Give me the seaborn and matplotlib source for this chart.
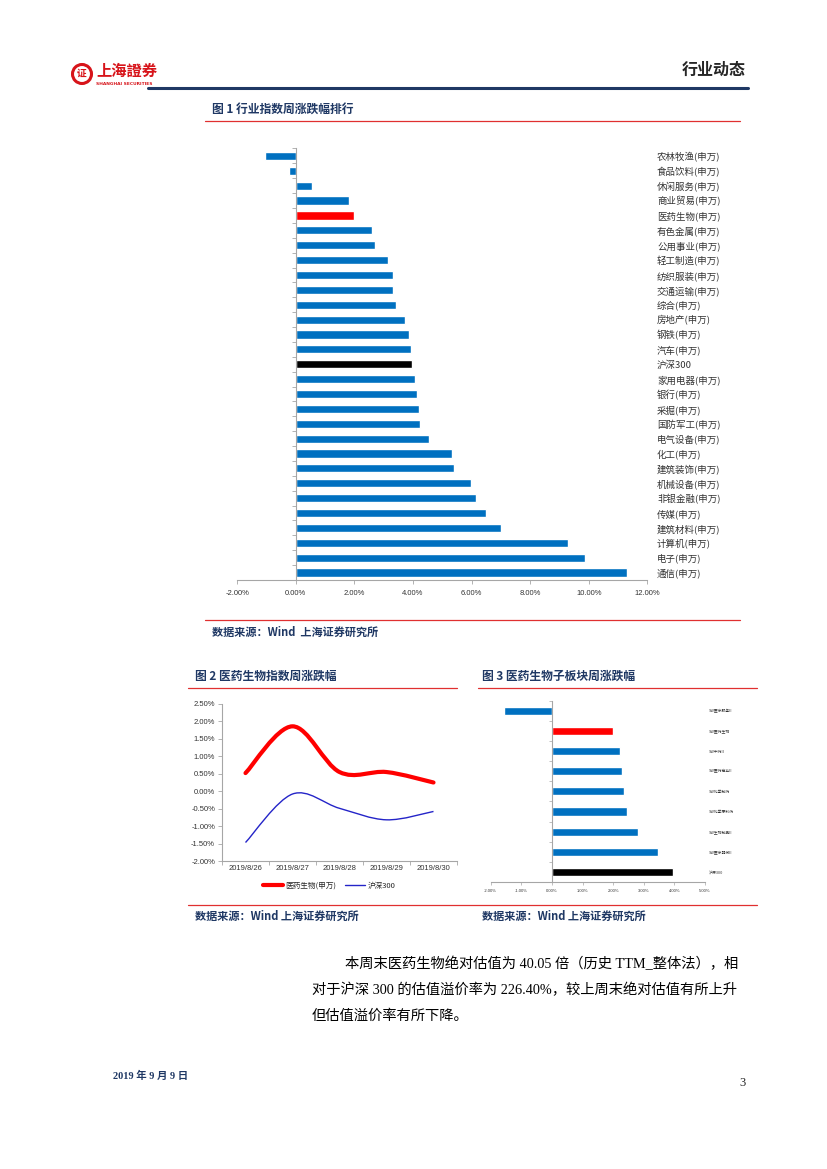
import numpy as np
import pandas as pd
import matplotlib
matplotlib.use("Agg")
import matplotlib.pyplot as plt
import seaborn as sns
from matplotlib.lines import Line2D
from matplotlib.path import Path
from matplotlib.patches import PathPatch, Ellipse
from matplotlib.ticker import FuncFormatter, FixedLocator

# ---- data ----
industries = ["农林牧渔(申万)", "食品饮料(申万)", "休闲服务(申万)", "商业贸易(申万)", "医药生物(申万)",
              "有色金属(申万)", "公用事业(申万)", "轻工制造(申万)", "纺织服装(申万)", "交通运输(申万)",
              "综合(申万)", "房地产(申万)", "钢铁(申万)", "汽车(申万)", "沪深300",
              "家用电器(申万)", "银行(申万)", "采掘(申万)", "国防军工(申万)", "电气设备(申万)",
              "化工(申万)", "建筑装饰(申万)", "机械设备(申万)", "非银金融(申万)", "传媒(申万)",
              "建筑材料(申万)", "计算机(申万)", "电子(申万)", "通信(申万)"]
industry_chg = [-1.05, -0.24, 0.55, 1.81, 1.99,
                2.60, 2.70, 3.15, 3.33, 3.33,
                3.42, 3.71, 3.85, 3.92, 3.95,
                4.08, 4.13, 4.20, 4.24, 4.56,
                5.34, 5.40, 5.97, 6.15, 6.50,
                7.00, 9.30, 9.86, 11.30]

dates = ["2019/8/26", "2019/8/27", "2019/8/28", "2019/8/29", "2019/8/30"]
pharma_chg = [0.52, 1.86, 0.55, 0.55, 0.25]
hs300_chg = [-1.47, -0.08, -0.49, -0.82, -0.58]

sub_sectors = ["SW医疗服务II", "SW医药生物", "SW中药II", "SW医药商业II", "SW化学制药",
               "SW化学原料药", "SW生物制品II", "SW医疗器械II", "沪深300"]
sub_chg = [-1.55, 1.99, 2.21, 2.29, 2.34, 2.46, 2.81, 3.46, 3.94]

# ---- helpers ----
W, H = 827, 1169
NAVY = "#1F3864"
BLUE = "#0070C0"
RED = "#FF0000"
AXC = "#A6A6A6"


def fx(x):
    return x / W


def fy(y):
    return 1 - y / H


def box(l, t, r, b):
    return [fx(l), fy(b), (r - l) / W, (b - t) / H]


def bar_color(name):
    if name == "沪深300":
        return "black"
    if name in ("医药生物(申万)", "SW医药生物"):
        return RED
    return BLUE


def pct(v, pos):
    return f"{v:.2f}%"


def smooth_path(xs, ys):
    # Excel-style smoothed line: bezier through the points
    pts = np.column_stack([xs, ys]).astype(float)
    verts = [pts[0]]
    codes = [Path.MOVETO]
    n = len(pts)
    for i in range(n - 1):
        p0 = pts[i - 1] if i > 0 else pts[i]
        p1, p2 = pts[i], pts[i + 1]
        p3 = pts[i + 2] if i + 2 < n else pts[i + 1]
        verts += [p1 + (p2 - p0) / 6, p2 - (p3 - p1) / 6, p2]
        codes += [Path.CURVE4] * 3
    return Path(verts, codes)


def hline(y, x0, x1, color, lw):
    fig.add_artist(Line2D([fx(x0), fx(x1)], [fy(y), fy(y)], color=color, lw=lw,
                          transform=fig.transFigure))


sns.set_theme(style="white")
plt.rcParams['font.family'] = ['Noto Sans CJK SC', 'DejaVu Sans']
plt.rcParams['axes.unicode_minus'] = False

fig = plt.figure(figsize=(8.27, 11.69), dpi=100)

# ---- page header ----
fig.add_artist(Ellipse((fx(82), fy(74)), 19 / W, 19 / H, transform=fig.transFigure,
                       facecolor="white", edgecolor="#D7141A", lw=2.2))
fig.text(fx(82), fy(74), "证", color="#D7141A", fontsize=7, fontweight="bold", ha="center", va="center")
fig.text(fx(96), fy(71), "上海證券", color="#D7141A", fontsize=11, fontweight="bold", va="center")
fig.text(fx(96), fy(84), "SHANGHAI SECURITIES", color="#D7141A", fontsize=3.2,
         fontweight="bold", va="center", family="DejaVu Sans")
fig.text(fx(746), fy(70), "行业动态", color="#262626", fontsize=11.5, fontweight="bold", ha="right", va="center")
hline(88, 148, 748, NAVY, 2.2)

# ---- figure 1 ----
fig.text(fx(212), fy(109), "图 1 行业指数周涨跌幅排行", color=NAVY, fontsize=8.5, fontweight="bold", va="center")
hline(121, 205, 740, "#E03030", 0.9)

ax1 = fig.add_axes(box(237.3, 148.5, 647.3, 580))
df1 = pd.DataFrame({"行业": industries, "涨跌幅": industry_chg})
sns.barplot(data=df1, x="涨跌幅", y="行业", hue="行业",
            palette={n: bar_color(n) for n in industries},
            width=0.55, saturation=1, legend=False, ax=ax1)
ax1.set_xlim(-2, 12)
ax1.set_xticks(np.arange(-2, 13, 2))
ax1.xaxis.set_major_formatter(FuncFormatter(pct))
ax1.set_xlabel("")
ax1.set_ylabel("")
ax1.spines['left'].set_position(('data', 0))
ax1.spines[['top', 'right']].set_visible(False)
for s in ['left', 'bottom']:
    ax1.spines[s].set_color(AXC)
    ax1.spines[s].set_linewidth(0.8)
ax1.yaxis.set_minor_locator(FixedLocator(np.arange(-0.5, len(industries), 1)))
ax1.tick_params(axis='y', which='major', left=False, right=False, labelleft=False,
                labelright=True, length=0, pad=7, labelsize=6.8, labelcolor="#333333")
ax1.tick_params(axis='y', which='minor', left=True, length=3, width=0.6, color=AXC)
ax1.tick_params(axis='x', bottom=True, length=3, width=0.6, color=AXC,
                labelsize=5.5, pad=4, labelcolor="#333333")
for t in ax1.get_xticklabels():
    t.set_family("Liberation Sans")

hline(620, 205, 740, "#E03030", 0.9)
fig.text(fx(212), fy(632), "数据来源：Wind  上海证券研究所", color=NAVY, fontsize=8,
         fontweight="bold", style="italic", va="center")

# ---- figure 2 ----
fig.text(fx(195), fy(676), "图 2 医药生物指数周涨跌幅", color=NAVY, fontsize=8.5, fontweight="bold", va="center")
hline(688, 188, 457, "#E03030", 0.9)

ax2 = fig.add_axes(box(222, 704, 457, 861))
xs = np.arange(len(dates))
ax2.add_patch(PathPatch(smooth_path(xs, pharma_chg), fill=False, edgecolor=RED, lw=3.0, capstyle="round"))
ax2.add_patch(PathPatch(smooth_path(xs, hs300_chg), fill=False, edgecolor="#2424C8", lw=1.0))
ax2.set_xlim(-0.5, len(dates) - 0.5)
ax2.set_ylim(-2.0, 2.5)
ax2.set_yticks(np.arange(-2.0, 2.51, 0.5))
ax2.yaxis.set_major_formatter(FuncFormatter(pct))
ax2.set_xticks(xs)
ax2.set_xticklabels(dates)
ax2.xaxis.set_minor_locator(FixedLocator(np.arange(-0.5, len(dates), 1)))
ax2.spines[['top', 'right']].set_visible(False)
for s in ['left', 'bottom']:
    ax2.spines[s].set_color(AXC)
    ax2.spines[s].set_linewidth(0.8)
ax2.tick_params(axis='x', which='major', bottom=False, length=0, labelsize=5.5, pad=3,
                labelcolor="#333333")
ax2.tick_params(axis='x', which='minor', bottom=True, length=3, width=0.6, color=AXC)
ax2.tick_params(axis='y', left=True, length=3, width=0.6, color=AXC, labelsize=5.5, pad=2, labelcolor="#333333")
for t in ax2.get_xticklabels() + ax2.get_yticklabels():
    t.set_family("Liberation Sans")
handles = [Line2D([], [], color=RED, lw=3.0), Line2D([], [], color="#2424C8", lw=1.0)]
ax2.legend(handles, ["医药生物(申万)", "沪深300"], loc="center", ncol=2, frameon=False,
           bbox_to_anchor=(fx(329), fy(886)), bbox_transform=fig.transFigure,
           fontsize=5.5, handlelength=2.6, handletextpad=0.3, columnspacing=1.2)

# ---- figure 3 ----
fig.text(fx(482), fy(676), "图 3 医药生物子板块周涨跌幅", color=NAVY, fontsize=8.5, fontweight="bold", va="center")
hline(688, 478, 757, "#E03030", 0.9)

ax3 = fig.add_axes(box(490.7, 700.7, 705, 882))
df3 = pd.DataFrame({"板块": sub_sectors, "涨跌幅": sub_chg})
sns.barplot(data=df3, x="涨跌幅", y="板块", hue="板块",
            palette={n: bar_color(n) for n in sub_sectors},
            width=0.4, saturation=1, legend=False, ax=ax3)
ax3.set_xlim(-2, 5)
ax3.set_xticks(np.arange(-2, 6, 1))
ax3.xaxis.set_major_formatter(FuncFormatter(pct))
ax3.set_xlabel("")
ax3.set_ylabel("")
ax3.spines['left'].set_position(('data', 0))
ax3.spines[['top', 'right']].set_visible(False)
for s in ['left', 'bottom']:
    ax3.spines[s].set_color(AXC)
    ax3.spines[s].set_linewidth(0.8)
ax3.yaxis.set_minor_locator(FixedLocator(np.arange(-0.5, len(sub_sectors), 1)))
ax3.tick_params(axis='y', which='major', left=False, right=False, labelleft=False,
                labelright=True, length=0, pad=3, labelsize=2.8, labelcolor="#333333")
ax3.tick_params(axis='y', which='minor', left=True, length=2, width=0.5, color=AXC)
ax3.tick_params(axis='x', bottom=True, length=2, width=0.5, color=AXC,
                labelsize=3, pad=3, labelcolor="#333333")
for t in ax3.get_xticklabels():
    t.set_family("Liberation Sans")

hline(905, 188, 757, "#E03030", 0.9)
fig.text(fx(195), fy(916), "数据来源：Wind 上海证券研究所", color=NAVY, fontsize=8,
         fontweight="bold", style="italic", va="center")
fig.text(fx(482), fy(916), "数据来源：Wind 上海证券研究所", color=NAVY, fontsize=8,
         fontweight="bold", style="italic", va="center")

# ---- body text ----
body = ['Liberation Serif', 'Noto Sans CJK SC']
fig.text(fx(345), fy(964), "本周末医药生物绝对估值为 40.05 倍（历史 TTM_整体法），相",
         fontsize=10.3, family=body, va="center", color="black")
fig.text(fx(312), fy(990), "对于沪深 300 的估值溢价率为 226.40%，较上周末绝对估值有所上升",
         fontsize=10.3, family=body, va="center", color="black")
fig.text(fx(312), fy(1016), "但估值溢价率有所下降。",
         fontsize=10.3, family=body, va="center", color="black")

# ---- footer ----
fig.text(fx(113), fy(1076), "2019 年 9 月 9 日", color=NAVY, fontsize=7.5, fontweight="bold",
         family=['Liberation Serif', 'Noto Sans CJK SC'], va="center")
fig.text(fx(746), fy(1083), "3", fontsize=9, family="Liberation Serif", ha="right", va="center")

fig.savefig("out.png", dpi=100)
